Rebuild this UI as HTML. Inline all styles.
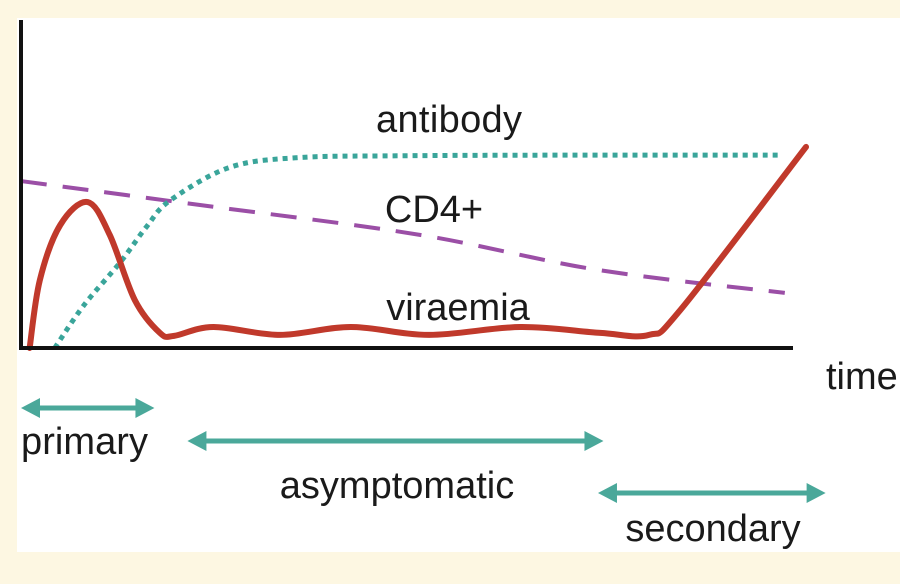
<!DOCTYPE html>
<html><head><meta charset="utf-8"><style>
html,body{margin:0;padding:0;background:#fdf7e2;}
svg{display:block;}
text{font-family:"Liberation Sans",sans-serif;fill:#1a1a1a;}
</style></head><body>
<svg width="900" height="584" viewBox="0 0 900 584">
<rect x="0" y="0" width="900" height="584" fill="#fdf7e2"/>
<rect x="17" y="18" width="883" height="534" fill="#ffffff"/>
<g id="series"></g>
<line x1="21" y1="20" x2="21" y2="349" stroke="#111" stroke-width="4"/>
<line x1="19" y1="348" x2="793" y2="348" stroke="#111" stroke-width="4"/>
<text x="449" y="132" font-size="38" text-anchor="middle" textLength="146">antibody</text>
<text x="434" y="222" font-size="38" text-anchor="middle">CD4+</text>
<text x="458" y="320" font-size="38" text-anchor="middle">viraemia</text>
<text x="826" y="389" font-size="38">time</text>
<g id="phases"></g>
<text x="21" y="454" font-size="38" textLength="127">primary</text>
<text x="397" y="498" font-size="38" text-anchor="middle">asymptomatic</text>
<text x="713" y="541" font-size="38" text-anchor="middle">secondary</text>
</svg>
<script>
const viraemiaT = [1.1, 2.4, 5, 8.5, 11.3, 14.5, 17.7, 19.5, 24.5, 33, 42, 52, 63.6, 73.8, 80, 84, 100];
const viraemiaV = [0, 20.7, 37.5, 44.5, 34.5, 14.6, 4.6, 3.7, 6.4, 4, 6.4, 4, 6.4, 4.6, 4, 11.6, 61.3];
const antibodyT = [4.3, 8, 12.6, 16, 19, 26.5, 35, 48, 70, 97];
const antibodyV = [0, 13, 26, 37, 45, 55, 58, 58.6, 58.8, 58.8];
const cd4T = [0, 22.8, 50.8, 73.5, 97.3];
const cd4V = [50.9, 43.6, 34.5, 23.8, 16.8];
const phaseStart = [0, 21.2, 73.5];
const phaseEnd = [17, 74.2, 102.5];
const phaseNames = ['primary', 'asymptomatic', 'secondary'];
const phaseRowY = [408, 441, 493];

const xs = t => 21 + t * 7.85;
const ys = v => 348 - v * 3.28;
const NS = 'http://www.w3.org/2000/svg';

function smoothPath(T, V) {
  const p = T.map((t, i) => [xs(t), ys(V[i])]);
  let d = 'M' + p[0][0] + ',' + p[0][1];
  for (let i = 0; i < p.length - 1; i++) {
    const p0 = p[i - 1] || p[i], p1 = p[i], p2 = p[i + 1], p3 = p[i + 2] || p2;
    const c1 = [p1[0] + (p2[0] - p0[0]) / 6, p1[1] + (p2[1] - p0[1]) / 6];
    const c2 = [p2[0] - (p3[0] - p1[0]) / 6, p2[1] - (p3[1] - p1[1]) / 6];
    d += ' C' + c1 + ' ' + c2 + ' ' + p2;
  }
  return d;
}
const g = document.getElementById('series');
function addLine(T, V, color, width, dash, name, cap) {
  const el = document.createElementNS(NS, 'path');
  el.setAttribute('d', smoothPath(T, V));
  el.setAttribute('fill', 'none');
  el.setAttribute('stroke', color);
  el.setAttribute('stroke-width', width);
  if (dash) el.setAttribute('stroke-dasharray', dash);
  el.setAttribute('stroke-linecap', cap);
  
  
  g.appendChild(el);
}
addLine(cd4T, cd4V, '#9b4fa6', 4, '26 16', 'cd4-line', 'butt');
addLine(antibodyT, antibodyV, '#3aa59a', 5, '5 5', 'antibody-line', 'butt');
addLine(viraemiaT, viraemiaV, '#c0392b', 6, null, 'viraemia-line', 'round');

const pg = document.getElementById('phases');
phaseStart.forEach((s, i) => {
  const x1 = xs(s), x2 = xs(phaseEnd[i]), y = phaseRowY[i];
  const grp = document.createElementNS(NS, 'g');
  
  
  const ln = document.createElementNS(NS, 'line');
  ln.setAttribute('x1', x1 + 10); ln.setAttribute('x2', x2 - 10);
  ln.setAttribute('y1', y); ln.setAttribute('y2', y);
  ln.setAttribute('stroke', '#4aa89a'); ln.setAttribute('stroke-width', 5);
  
  
  grp.appendChild(ln);
  const hd = document.createElementNS(NS, 'path');
  hd.setAttribute('d', `M${x1},${y} L${x1+19},${y-10} L${x1+19},${y+10} Z M${x2},${y} L${x2-19},${y-10} L${x2-19},${y+10} Z`);
  hd.setAttribute('fill', '#4aa89a');
  
  
  grp.appendChild(hd);
  pg.appendChild(grp);
});
</script>
</body></html>
